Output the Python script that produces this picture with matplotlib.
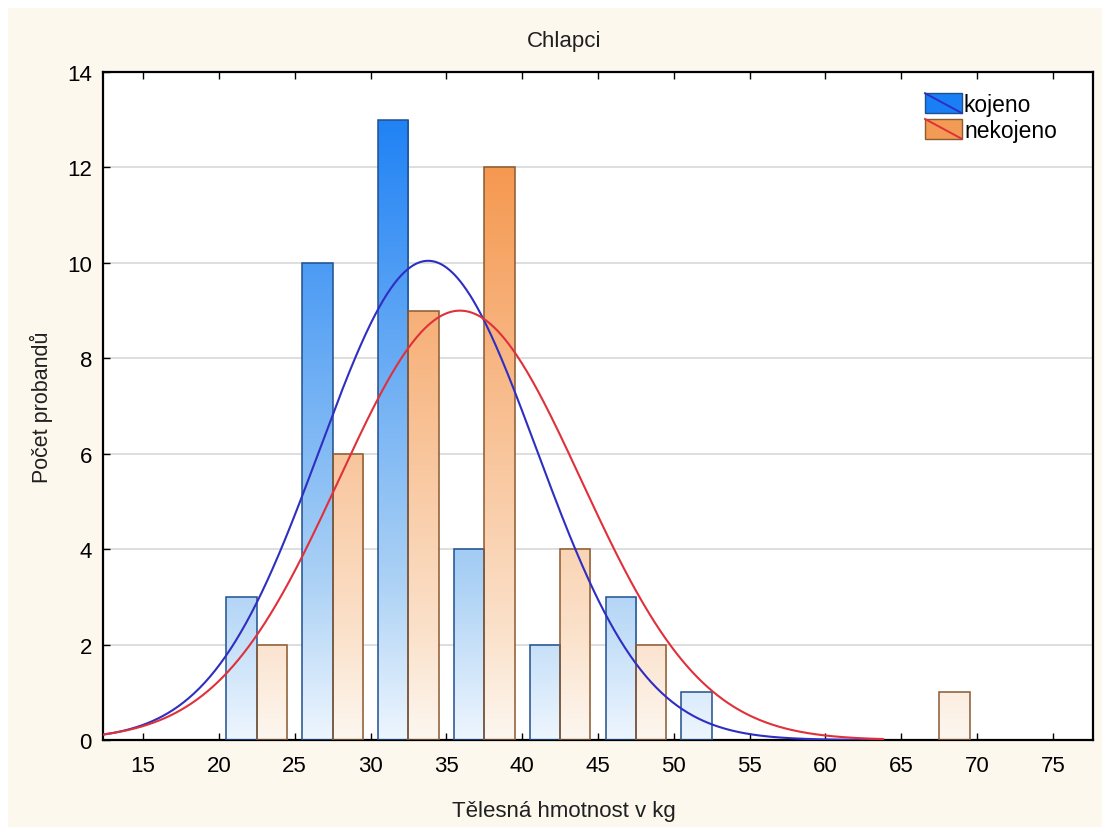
import numpy as np
import matplotlib
matplotlib.use("Agg")
import matplotlib.pyplot as plt
from matplotlib.patches import Rectangle
from matplotlib.lines import Line2D
from matplotlib.colors import LinearSegmentedColormap
from matplotlib.legend_handler import HandlerBase

plt.rcParams['font.family'] = ['Liberation Sans', 'DejaVu Sans']

# Data
bin_centers = [22.5, 27.5, 32.5, 37.5, 42.5, 47.5, 52.5, 57.5, 62.5, 67.5, 72.5]
kojeno = [3, 10, 13, 4, 2, 3, 1, 0, 0, 0, 0]
nekojeno = [2, 6, 9, 12, 4, 2, 0, 0, 0, 1, 0]
kojeno_mean, kojeno_sd = 33.8, 7.15
nekojeno_mean, nekojeno_sd = 35.9, 7.98
bin_width = 5
series_names = ['kojeno', 'nekojeno']
title = 'Chlapci'
xlabel = 'Tělesná hmotnost v kg'
ylabel = 'Počet probandů'
xticks = [15, 20, 25, 30, 35, 40, 45, 50, 55, 60, 65, 70, 75]
yticks = [0, 2, 4, 6, 8, 10, 12, 14]

fig = plt.figure(figsize=(11.02, 8.28), dpi=100)
fig.patch.set_facecolor('white')
fig.patches.append(Rectangle((8/1102, -0.01), 1.02, 1.01 - 9/828, transform=fig.transFigure,
                             facecolor='#fcf8ee', edgecolor='none', zorder=-10))
ax = fig.add_axes([103/1102, 1 - 741/828, (1093-103)/1102, (741-73)/828])
ax.set_facecolor('white')
ax.set_xlim(12.36, 77.64)
ax.set_ylim(0, 14)

blue_cmap = LinearSegmentedColormap.from_list(
    'b', [(0, '#eef6fe'), (0.25, '#abd1f5'), (1.0, '#1a7ff4')])
orange_cmap = LinearSegmentedColormap.from_list(
    'o', [(0, '#fdf7f0'), (0.16, '#fbe2cc'), (0.9, '#f59850'), (1.0, '#f49248')])

bw = 2.0
def draw_bars(vals, offset, cmap, edge):
    grad = np.linspace(0, 1, 256).reshape(-1, 1)
    for c, v in zip(bin_centers, vals):
        if v <= 0:
            continue
        x0 = c - 2 + offset
        rect = ax.bar(x0, v, width=bw, align='edge', facecolor='none',
                      edgecolor=edge, linewidth=1.1, zorder=3)[0]
        im = ax.imshow(grad, extent=[x0, x0 + bw, 0, 13.4], origin='lower',
                       cmap=cmap, aspect='auto', zorder=2, interpolation='bilinear')
        im.set_clip_path(rect)

draw_bars(kojeno, 0, blue_cmap, '#1f4f8f')
draw_bars(nekojeno, bw, orange_cmap, '#8a5a30')

N_k = sum(kojeno)
N_n = sum(nekojeno)
xs = np.linspace(12.36, 63.8, 600)
def normal(x, m, s, n):
    return n * bin_width / (s * np.sqrt(2 * np.pi)) * np.exp(-0.5 * ((x - m) / s) ** 2)
ax.plot(xs, normal(xs, kojeno_mean, kojeno_sd, N_k), color='#2e2ec2', lw=1.5, zorder=4)
ax.plot(xs, normal(xs, nekojeno_mean, nekojeno_sd, N_n), color='#e0303a', lw=1.5, zorder=4)

ax.set_xticks(xticks)
ax.set_yticks(yticks)
ax.tick_params(direction='in', length=5, width=1, labelsize=16, colors='black',
               top=True, right=False)
ax.tick_params(axis='x', pad=11)
ax.tick_params(axis='y', pad=8)
ax.yaxis.grid(True, color='#d8d8d8', lw=1.2)
ax.set_axisbelow(True)
for s in ax.spines.values():
    s.set_linewidth(1.6)
    s.set_color('black')

ax.set_title(title, fontsize=16, pad=19, color='#202020', x=0.466)
ax.set_xlabel(xlabel, fontsize=16, color='#202020')
ax.xaxis.set_label_coords(0.466, -0.106)
ax.xaxis.label.set_verticalalignment('center')
ax.set_ylabel(ylabel, fontsize=15.5, labelpad=10, color='#202020')

class DiagHandler(HandlerBase):
    def __init__(self, face, edge, line):
        super().__init__()
        self.face = face
        self.edge = edge
        self.line = line
    def create_artists(self, legend, orig_handle, xdescent, ydescent, width, height, fontsize, trans):
        r = Rectangle((-xdescent, -ydescent), width, height, facecolor=self.face,
                      edgecolor=self.edge, lw=1, transform=trans)
        l = Line2D([-xdescent, -xdescent + width], [-ydescent + height, -ydescent],
                   color=self.line, lw=1.4, transform=trans)
        return [r, l]

h1 = Rectangle((0, 0), 1, 1)
h2 = Rectangle((0, 0), 1, 1)
leg = fig.legend([h1, h2], series_names, loc='upper left',
                 bbox_to_anchor=(925/1102, 1 - 94/828),
                 frameon=False, fontsize=16.5, handlelength=1.6, handleheight=0.95,
                 handletextpad=0.1, labelspacing=0.12, borderpad=0, borderaxespad=0,
                 handler_map={h1: DiagHandler('#1a7ff4', '#1f4f8f', '#2e2ec2'),
                              h2: DiagHandler('#f39a55', '#8a5a30', '#e0303a')})

fig.savefig('out.png', dpi=100, facecolor=fig.get_facecolor())
